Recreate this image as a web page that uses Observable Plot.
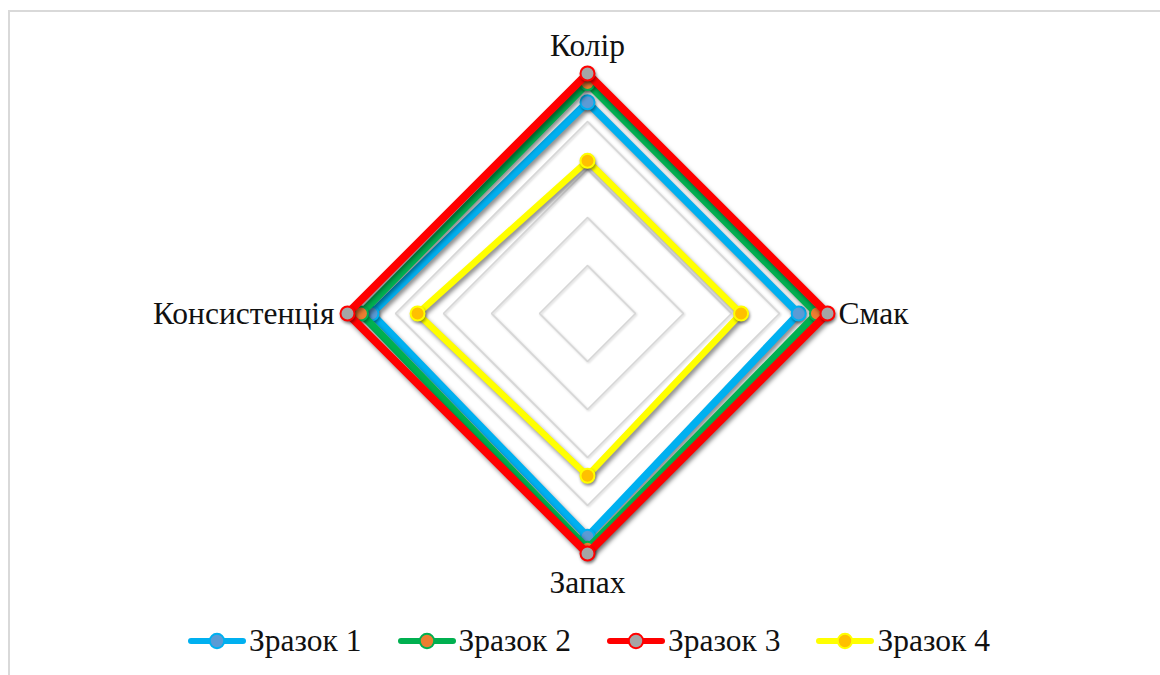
<!DOCTYPE html>
<html>
<head>
<meta charset="utf-8">
<script src="https://cdn.jsdelivr.net/npm/d3@7"></script>
<script src="https://cdn.jsdelivr.net/npm/@observablehq/plot@0.6"></script>
<style>
  html, body { margin: 0; padding: 0; background: #fff; width: 1160px; height: 675px; overflow: hidden; }
  #frame { position: absolute; left: 8px; top: 10px; width: 1200px; height: 720px; border: 2px solid #d9d9d9; box-sizing: border-box; }
  #chart { position: absolute; left: 0; top: 0; width: 1160px; }
  #legend { display: flex; justify-content: center; align-items: center; gap: 35px; height: 58px; padding-left: 17px;
            font-family: "Liberation Serif", "Times New Roman", serif; font-size: 31.5px; color: #111; }
  .item { display: flex; align-items: center; }
  .item svg { display: block; margin-right: 2px; }
</style>
</head>
<body>
<div id="frame"></div>
<div id="chart"></div>
<script>
// ---- data ----
const categories = ["Колір", "Смак", "Запах", "Консистенція"];
const seriesNames = ["Зразок 1", "Зразок 2", "Зразок 3", "Зразок 4"];
const zrazok1 = [4.4, 4.4, 4.65, 4.5];
const zrazok2 = [4.8, 4.78, 4.9, 4.72];
const zrazok3 = [5, 5, 5, 5];
const zrazok4 = [3.18, 3.2, 3.38, 3.54];
const gridLevels = [1, 2, 3, 4, 5];

// ---- styles ----
const lineColors = ["#00B0F0", "#00B050", "#FF0000", "#FFFF00"];
const markerFills = ["#5B9BD5", "#ED7D31", "#A5A5A5", "#FFC000"];
const lineWidths = [7.5, 7.5, 8, 6.5];

const seriesValues = [zrazok1, zrazok2, zrazok3, zrazok4];
const n = categories.length;
const angle = i => (i % n) * 2 * Math.PI / n;
const polar = (v, i) => ({x: v * Math.sin(angle(i)), y: v * Math.cos(angle(i))});

// grid rings (closed)
const gridRows = [];
for (const L of gridLevels) for (let i = 0; i <= n; i++) gridRows.push({level: L, ...polar(L, i)});

// series rows
const seriesRows = seriesValues.map((vals, s) => {
  const closed = [];
  for (let i = 0; i <= n; i++) closed.push({series: seriesNames[s], cat: categories[i % n], value: vals[i % n], ...polar(vals[i % n], i)});
  return closed;
});

const labelRows = categories.map((c, i) => ({cat: c, ...polar(5, i)}));

const marks = [
  Plot.line(gridRows, {x: "x", y: "y", z: "level", stroke: "#d6d6d6", strokeWidth: 1.6, strokeLinejoin: "miter"})
];
seriesRows.forEach((rows, s) => {
  marks.push(Plot.line(rows, {x: "x", y: "y", stroke: lineColors[s], strokeWidth: lineWidths[s], strokeLinejoin: "miter", strokeMiterlimit: 10}));
  marks.push(Plot.dot(rows.slice(0, n), {x: "x", y: "y", r: 7, fill: markerFills[s], stroke: lineColors[s], strokeWidth: 2}));
});
marks.push(Plot.text(labelRows.filter((d, i) => i === 0), {x: "x", y: "y", text: "cat", dy: -28, fill: "#111"}));
marks.push(Plot.text(labelRows.filter((d, i) => i === 1), {x: "x", y: "y", text: "cat", dx: 11, textAnchor: "start", fill: "#111"}));
marks.push(Plot.text(labelRows.filter((d, i) => i === 2), {x: "x", y: "y", text: "cat", dy: 29, fill: "#111"}));
marks.push(Plot.text(labelRows.filter((d, i) => i === 3), {x: "x", y: "y", text: "cat", dx: -13, textAnchor: "end", fill: "#111"}));

const svg = Plot.plot({
  width: 1160,
  height: 612,
  margin: 0,
  x: {domain: [-5, 5], range: [347, 827], axis: null},
  y: {domain: [-5, 5], range: [553, 73], axis: null},
  style: {fontFamily: "'Liberation Serif', 'Times New Roman', serif", fontSize: "31.5px", background: "transparent", overflow: "visible"},
  marks
});
document.getElementById("chart").appendChild(svg);

// shadows like the original office chart
const sel = d3.select(svg);
sel.selectAll('g[aria-label="line"]').each(function(d, i) {
  d3.select(this).style("filter", i === 0 ? "drop-shadow(1px 1px 1px rgba(0,0,0,0.18))" : "drop-shadow(2px 3px 2px rgba(0,0,0,0.45))");
});
sel.selectAll('g[aria-label="dot"]').style("filter", "drop-shadow(1px 2px 1.5px rgba(0,0,0,0.4))");

// legend
const legend = document.createElement("div");
legend.id = "legend";
seriesNames.forEach((name, s) => {
  const item = document.createElement("div");
  item.className = "item";
  const sw = d3.create("svg").attr("width", 60).attr("height", 20);
  sw.append("line").attr("x1", 4).attr("x2", 56).attr("y1", 10).attr("y2", 10)
    .attr("stroke", lineColors[s]).attr("stroke-width", 6).attr("stroke-linecap", "round");
  sw.append("circle").attr("cx", 30).attr("cy", 10).attr("r", 7.2)
    .attr("fill", markerFills[s]).attr("stroke", lineColors[s]).attr("stroke-width", 2);
  item.appendChild(sw.node());
  const t = document.createElement("span");
  t.textContent = name;
  item.appendChild(t);
  legend.appendChild(item);
});
document.getElementById("chart").appendChild(legend);
</script>
</body>
</html>
